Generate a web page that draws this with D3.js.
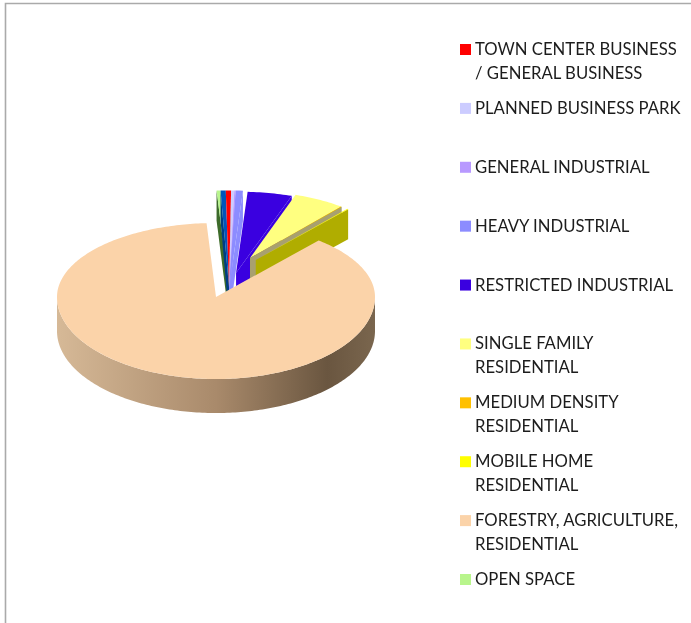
<!DOCTYPE html>
<html>
<head>
<meta charset="utf-8">
<script src="https://cdn.jsdelivr.net/npm/d3@7"></script>
<style>
  html, body { margin: 0; background: #fff; }
  /* the original is a soft, scaled-up screenshot */
  svg { display: block; filter: blur(0.45px); }
  .legend-label { font-family: Lato, "Open Sans", sans-serif; font-size: 16.7px; fill: #1c1c1c; }
</style>
</head>
<body>
<svg id="chart" width="691" height="623"></svg>
<script>
// values, share of land in percent
const categories = [
  'TOWN CENTER BUSINESS', 'PLANNED BUSINESS PARK', 'GENERAL INDUSTRIAL', 'HEAVY INDUSTRIAL',
  'RESTRICTED INDUSTRIAL', 'SINGLE FAMILY', 'MEDIUM DENSITY', 'MOBILE HOME',
  'FORESTRY, AGRICULTURE,', 'OPEN SPACE', 'OTHER'
];
const secondLines = ['/ GENERAL BUSINESS', '', '', '', '', 'RESIDENTIAL', 'RESIDENTIAL', 'RESIDENTIAL', 'RESIDENTIAL', '', ''];
const shares = [0.4, 0.25, 0.1, 0.55, 4.1, 5.8, 0.1, 0.1, 87.8, 0.3, 0.4];
const topColors = ['#ff0000', '#ccccff', '#b899ff', '#8c8cff', '#3a00e0', '#ffff80', '#ffc000', '#ffff00', '#fbd3a9', '#b8f58c', '#0055bb'];
const sideColors = ['#e00000', '#ccccff', '#b899ff', '#8c8cff', '#3a00e0', '#b0ad00', '#a8a070', '#b0ad00', '#b09070', '#3d6b2a', '#003c84'];
const legendCount = 10;

// how far each slice is pulled out of the pie, in pie radii
const pullX = [0.082, 0.082, 0.082, 0.082, 0.126, 0.214, 0.214, 0.25, 0, 0.082, 0.082];
const pullY = [0.12, 0.12, 0.12, 0.12, 0.324, 0.527, 0.527, 0.5, 0, 0.12, 0.12];
const reach = [1.32, 1.32, 1.32, 1.32, 1.1, 0.9, 0.9, 0.9, 1, 1.32, 1.32];

const svg = d3.select('#chart');

const xScale = d3.scaleLinear().domain([-1, 1]).range([57, 375]);
// the back of the pie is a little flatter than the front
const yScale = d3.scaleLinear().domain([-1, 0, 1]).range([379, 297, 223]);
const deg = Math.PI / 180;
const pieStart = -0.88 * deg;

const slices = d3.pie().sort(null).value(d => d)
  .startAngle(pieStart).endAngle(pieStart + 2 * Math.PI)(shares);

const line = d3.line();

function project(i, angle, r, drop = 0) {
  return [
    xScale(pullX[i] + r * Math.sin(angle)),
    yScale(pullY[i] + r * Math.cos(angle)) + drop
  ];
}

function arcPoints(i, a0, a1, drop = 0) {
  const steps = Math.max(2, Math.ceil(Math.abs(a1 - a0) / (1 * deg)));
  return d3.range(steps + 1).map(k => project(i, a0 + (a1 - a0) * k / steps, reach[i], drop));
}

// frame of the original page
svg.append('path')
  .attr('d', 'M5.5,623V3.5H691')
  .attr('fill', 'none')
  .attr('stroke', '#aaaaaa')
  .attr('stroke-width', 1.6);

const defs = svg.append('defs');
const wallGrad = defs.append('linearGradient')
  .attr('id', 'wall')
  .attr('gradientUnits', 'userSpaceOnUse')
  .attr('x1', xScale(-1)).attr('x2', xScale(1))
  .attr('y1', 0).attr('y2', 0);
wallGrad.append('stop').attr('offset', '0%').attr('stop-color', '#d6b997');
wallGrad.append('stop').attr('offset', '50%').attr('stop-color', '#a98a6b');
wallGrad.append('stop').attr('offset', '85%').attr('stop-color', '#6a5640');
wallGrad.append('stop').attr('offset', '100%').attr('stop-color', '#7a664e');

const bigIndex = shares.indexOf(d3.max(shares));
const pieLayer = svg.append('g');

// pulled slices, left to right, so the right cut faces overlap properly
const centre = a => {
  const m = (a.startAngle + a.endAngle) / 2;
  return Math.sin(m);
};
const order = slices.map((s, i) => i).filter(i => i !== bigIndex)
  .sort((a, b) => centre(slices[a]) - centre(slices[b]));

const wedgeDepth = 30;
const wallDepth = 34;

order.forEach(i => {
  const s = slices[i];
  const apex = project(i, 0, 0);
  const leftSide = Math.sin(s.endAngle) < 0;
  const edge = leftSide ? s.startAngle : s.endAngle;
  const rim = project(i, edge, reach[i]);

  pieLayer.append('path')
    .attr('d', line([apex, rim, [rim[0], rim[1] + wedgeDepth], [apex[0], apex[1] + wedgeDepth]]) + 'Z')
    .attr('fill', sideColors[i]);

  pieLayer.append('path')
    .attr('d', line([apex, ...arcPoints(i, s.startAngle, s.endAngle)]) + 'Z')
    .attr('fill', topColors[i]);
});

// the big slice goes on top, with its rim wall below it
const big = slices[bigIndex];
const wallTop = arcPoints(bigIndex, 90 * deg, 270 * deg);
const wallBottom = arcPoints(bigIndex, 270 * deg, 90 * deg, wallDepth);
pieLayer.append('path')
  .attr('d', line([...wallTop, ...wallBottom]) + 'Z')
  .attr('fill', 'url(#wall)');
pieLayer.append('path')
  .attr('d', line([project(bigIndex, 0, 0), ...arcPoints(bigIndex, big.startAngle, big.endAngle)]) + 'Z')
  .attr('fill', topColors[bigIndex]);

// legend
const rowY = d3.scaleLinear().domain([0, 9]).range([55, 585]);
const legend = svg.append('g');
categories.slice(0, legendCount).forEach((name, i) => {
  const y = rowY(i);
  legend.append('rect')
    .attr('x', 460).attr('y', y - 11)
    .attr('width', 11).attr('height', 11)
    .attr('fill', topColors[i]);
  legend.append('text')
    .attr('class', 'legend-label')
    .attr('x', 475).attr('y', y)
    .text(name);
  if (secondLines[i]) {
    legend.append('text')
      .attr('class', 'legend-label')
      .attr('x', 475).attr('y', y + 24)
      .text(secondLines[i]);
  }
});
</script>
</body>
</html>
